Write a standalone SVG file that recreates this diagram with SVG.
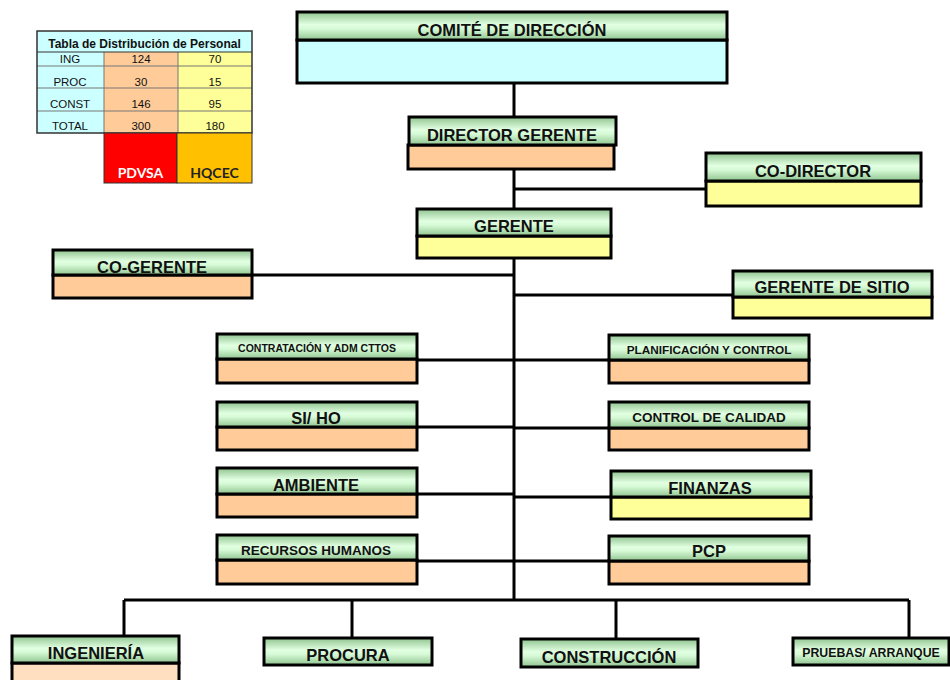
<svg xmlns="http://www.w3.org/2000/svg" width="950" height="680" viewBox="0 0 950 680">
  <defs>
    <linearGradient id="hdr" x1="0" y1="0" x2="0" y2="1">
      <stop offset="0" stop-color="#8fc38f"/>
      <stop offset="0.45" stop-color="#e2ffe2"/>
      <stop offset="0.6" stop-color="#d6fad6"/>
      <stop offset="1" stop-color="#90c490"/>
    </linearGradient>
    <style>
      .hd { fill: url(#hdr); stroke: #000; stroke-width: 3; }
      .bd { stroke: #000; stroke-width: 3; }
      .cy { fill: #ccffff; }
      .pe { fill: #ffcc99; }
      .ye { fill: #ffff99; }
      .lb { font-family: "Liberation Sans", Arial, sans-serif; font-weight: bold; fill: #111; text-anchor: middle; }
      .big { font-size: 16.5px; }
      .mid { font-size: 13.5px; }
      .xs { font-size: 10.5px; }
      .ln { stroke: #000; stroke-width: 3; fill: none; }
      .tt { font-family: "Liberation Sans", Arial, sans-serif; font-size: 11.5px; fill: #111; text-anchor: middle; }
      .grid { stroke: #777; stroke-width: 1; fill: none; }
    </style>
  </defs>
  <rect width="950" height="680" fill="#fff"/>

  <!-- staffing table -->
  <g id="tabla">
    <rect x="37" y="31" width="215" height="21" fill="#ccffff"/>
    <rect x="37" y="52" width="67" height="81" fill="#ccffff"/>
    <rect x="104" y="52" width="74" height="81" fill="#ffcc99"/>
    <rect x="178" y="52" width="74" height="81" fill="#ffff99"/>
    <path class="grid" d="M37,66 H252 M37,88 H252 M37,111 H252 M104,52 V133 M178,52 V133"/>
    <rect x="37" y="31" width="215" height="102" fill="none" stroke="#333" stroke-width="1.5"/>
    <path d="M37,52 H252" stroke="#333" stroke-width="1.2"/>
    <text class="lb" x="144.5" y="48" style="font-size:12px">Tabla de Distribución de Personal</text>
    <text class="tt" x="70" y="63">ING</text>
    <text class="tt" x="141" y="63">124</text>
    <text class="tt" x="215" y="63">70</text>
    <text class="tt" x="70" y="86">PROC</text>
    <text class="tt" x="141" y="86">30</text>
    <text class="tt" x="215" y="86">15</text>
    <text class="tt" x="70" y="108">CONST</text>
    <text class="tt" x="141" y="108">146</text>
    <text class="tt" x="215" y="108">95</text>
    <text class="tt" x="70" y="130">TOTAL</text>
    <text class="tt" x="141" y="130">300</text>
    <text class="tt" x="215" y="130">180</text>
    <rect x="104" y="133" width="73" height="50" fill="#ff0000" stroke="#333" stroke-width="1"/>
    <rect x="177" y="133" width="75" height="50" fill="#ffc000" stroke="#333" stroke-width="1"/>
    <text x="140.5" y="178" text-anchor="middle" font-family="Lato, 'Open Sans', sans-serif" font-weight="bold" font-size="14" fill="#fff">PDVSA</text>
    <text x="214.5" y="178" text-anchor="middle" font-family="Lato, 'Open Sans', sans-serif" font-weight="bold" font-size="14" fill="#222">HQCEC</text>
  </g>

  <!-- connectors -->
  <g id="conectores">
    <path class="ln" d="M514,83 V116 M514,169 V208 M514,189 H706 M514,258 V600 M252,275 H514 M514,295 H732"/>
    <path class="ln" d="M417,360 H514 M417,427 H514 M417,494 H514 M417,561 H514"/>
    <path class="ln" d="M514,360 H608 M514,428 H608 M514,497 H610 M514,561 H608"/>
    <path class="ln" d="M124,600 H909 M124,600 V636 M352,600 V637 M616,600 V638 M909,600 V637"/>
  </g>

  <g id="comite">
    <rect class="bd cy" x="297" y="40" width="430" height="43"/>
    <rect class="hd" x="297" y="12" width="430" height="28"/>
    <text class="lb big" x="512" y="36">COMITÉ DE DIRECCIÓN</text>
  </g>

  <g id="director-gerente">
    <rect class="bd pe" x="408" y="145" width="206" height="24"/>
    <rect class="hd" x="409" y="117" width="207" height="28"/>
    <text class="lb big" x="512" y="141">DIRECTOR GERENTE</text>
  </g>

  <g id="co-director">
    <rect class="bd ye" x="706" y="181" width="215" height="25"/>
    <rect class="hd" x="706" y="153" width="215" height="28"/>
    <text class="lb big" x="813" y="177">CO-DIRECTOR</text>
  </g>

  <g id="gerente">
    <rect class="bd ye" x="417" y="236" width="194" height="22"/>
    <rect class="hd" x="417" y="209" width="194" height="27"/>
    <text class="lb big" x="514" y="232">GERENTE</text>
  </g>

  <g id="co-gerente">
    <rect class="bd pe" x="53" y="275" width="199" height="23"/>
    <rect class="hd" x="53" y="250" width="199" height="25"/>
    <text class="lb big" x="152" y="273">CO-GERENTE</text>
  </g>

  <g id="gerente-sitio">
    <rect class="bd ye" x="733" y="297" width="199" height="21"/>
    <rect class="hd" x="733" y="271" width="199" height="26"/>
    <text class="lb big" x="832" y="293">GERENTE DE SITIO</text>
  </g>

  <g id="contratacion">
    <rect class="bd pe" x="217" y="359" width="200" height="24"/>
    <rect class="hd" x="217" y="334" width="200" height="25"/>
    <text class="lb xs" x="317" y="352">CONTRATACIÓN Y ADM CTTOS</text>
  </g>

  <g id="si-ho">
    <rect class="bd pe" x="217" y="427" width="200" height="23"/>
    <rect class="hd" x="217" y="402" width="200" height="25"/>
    <text class="lb big" x="316" y="424">SI/ HO</text>
  </g>

  <g id="ambiente">
    <rect class="bd pe" x="217" y="494" width="200" height="23"/>
    <rect class="hd" x="217" y="468" width="200" height="26"/>
    <text class="lb big" x="316" y="491">AMBIENTE</text>
  </g>

  <g id="recursos-humanos">
    <rect class="bd pe" x="217" y="560" width="200" height="24"/>
    <rect class="hd" x="217" y="535" width="200" height="25"/>
    <text class="lb mid" x="316" y="555">RECURSOS HUMANOS</text>
  </g>

  <g id="planificacion">
    <rect class="bd pe" x="609" y="360" width="200" height="23"/>
    <rect class="hd" x="609" y="335" width="200" height="25"/>
    <text class="lb" x="709" y="354" style="font-size:11.8px">PLANIFICACIÓN Y CONTROL</text>
  </g>

  <g id="control-calidad">
    <rect class="bd pe" x="609" y="428" width="200" height="22"/>
    <rect class="hd" x="609" y="402" width="200" height="26"/>
    <text class="lb mid" x="709" y="422">CONTROL DE CALIDAD</text>
  </g>

  <g id="finanzas">
    <rect class="bd ye" x="611" y="497" width="200" height="22"/>
    <rect class="hd" x="611" y="471" width="200" height="26"/>
    <text class="lb big" x="710" y="494">FINANZAS</text>
  </g>

  <g id="pcp">
    <rect class="bd pe" x="609" y="561" width="200" height="23"/>
    <rect class="hd" x="609" y="536" width="200" height="25"/>
    <text class="lb big" x="709" y="557">PCP</text>
  </g>

  <g id="ingenieria">
    <rect class="bd" x="12" y="663" width="167" height="30" fill="#ffdfbf"/>
    <rect class="hd" x="12" y="636" width="167" height="27"/>
    <text class="lb big" x="96" y="659">INGENIERÍA</text>
  </g>

  <g id="procura">
    <rect class="hd" x="264" y="638" width="168" height="27"/>
    <text class="lb big" x="348" y="661">PROCURA</text>
  </g>

  <g id="construccion">
    <rect class="hd" x="521" y="639" width="177" height="28"/>
    <text class="lb big" x="609" y="663">CONSTRUCCIÓN</text>
  </g>

  <g id="pruebas-arranque">
    <rect class="hd" x="793" y="638" width="156" height="27"/>
    <text class="lb" x="871" y="657" style="font-size:12.3px">PRUEBAS/ ARRANQUE</text>
  </g>
</svg>
